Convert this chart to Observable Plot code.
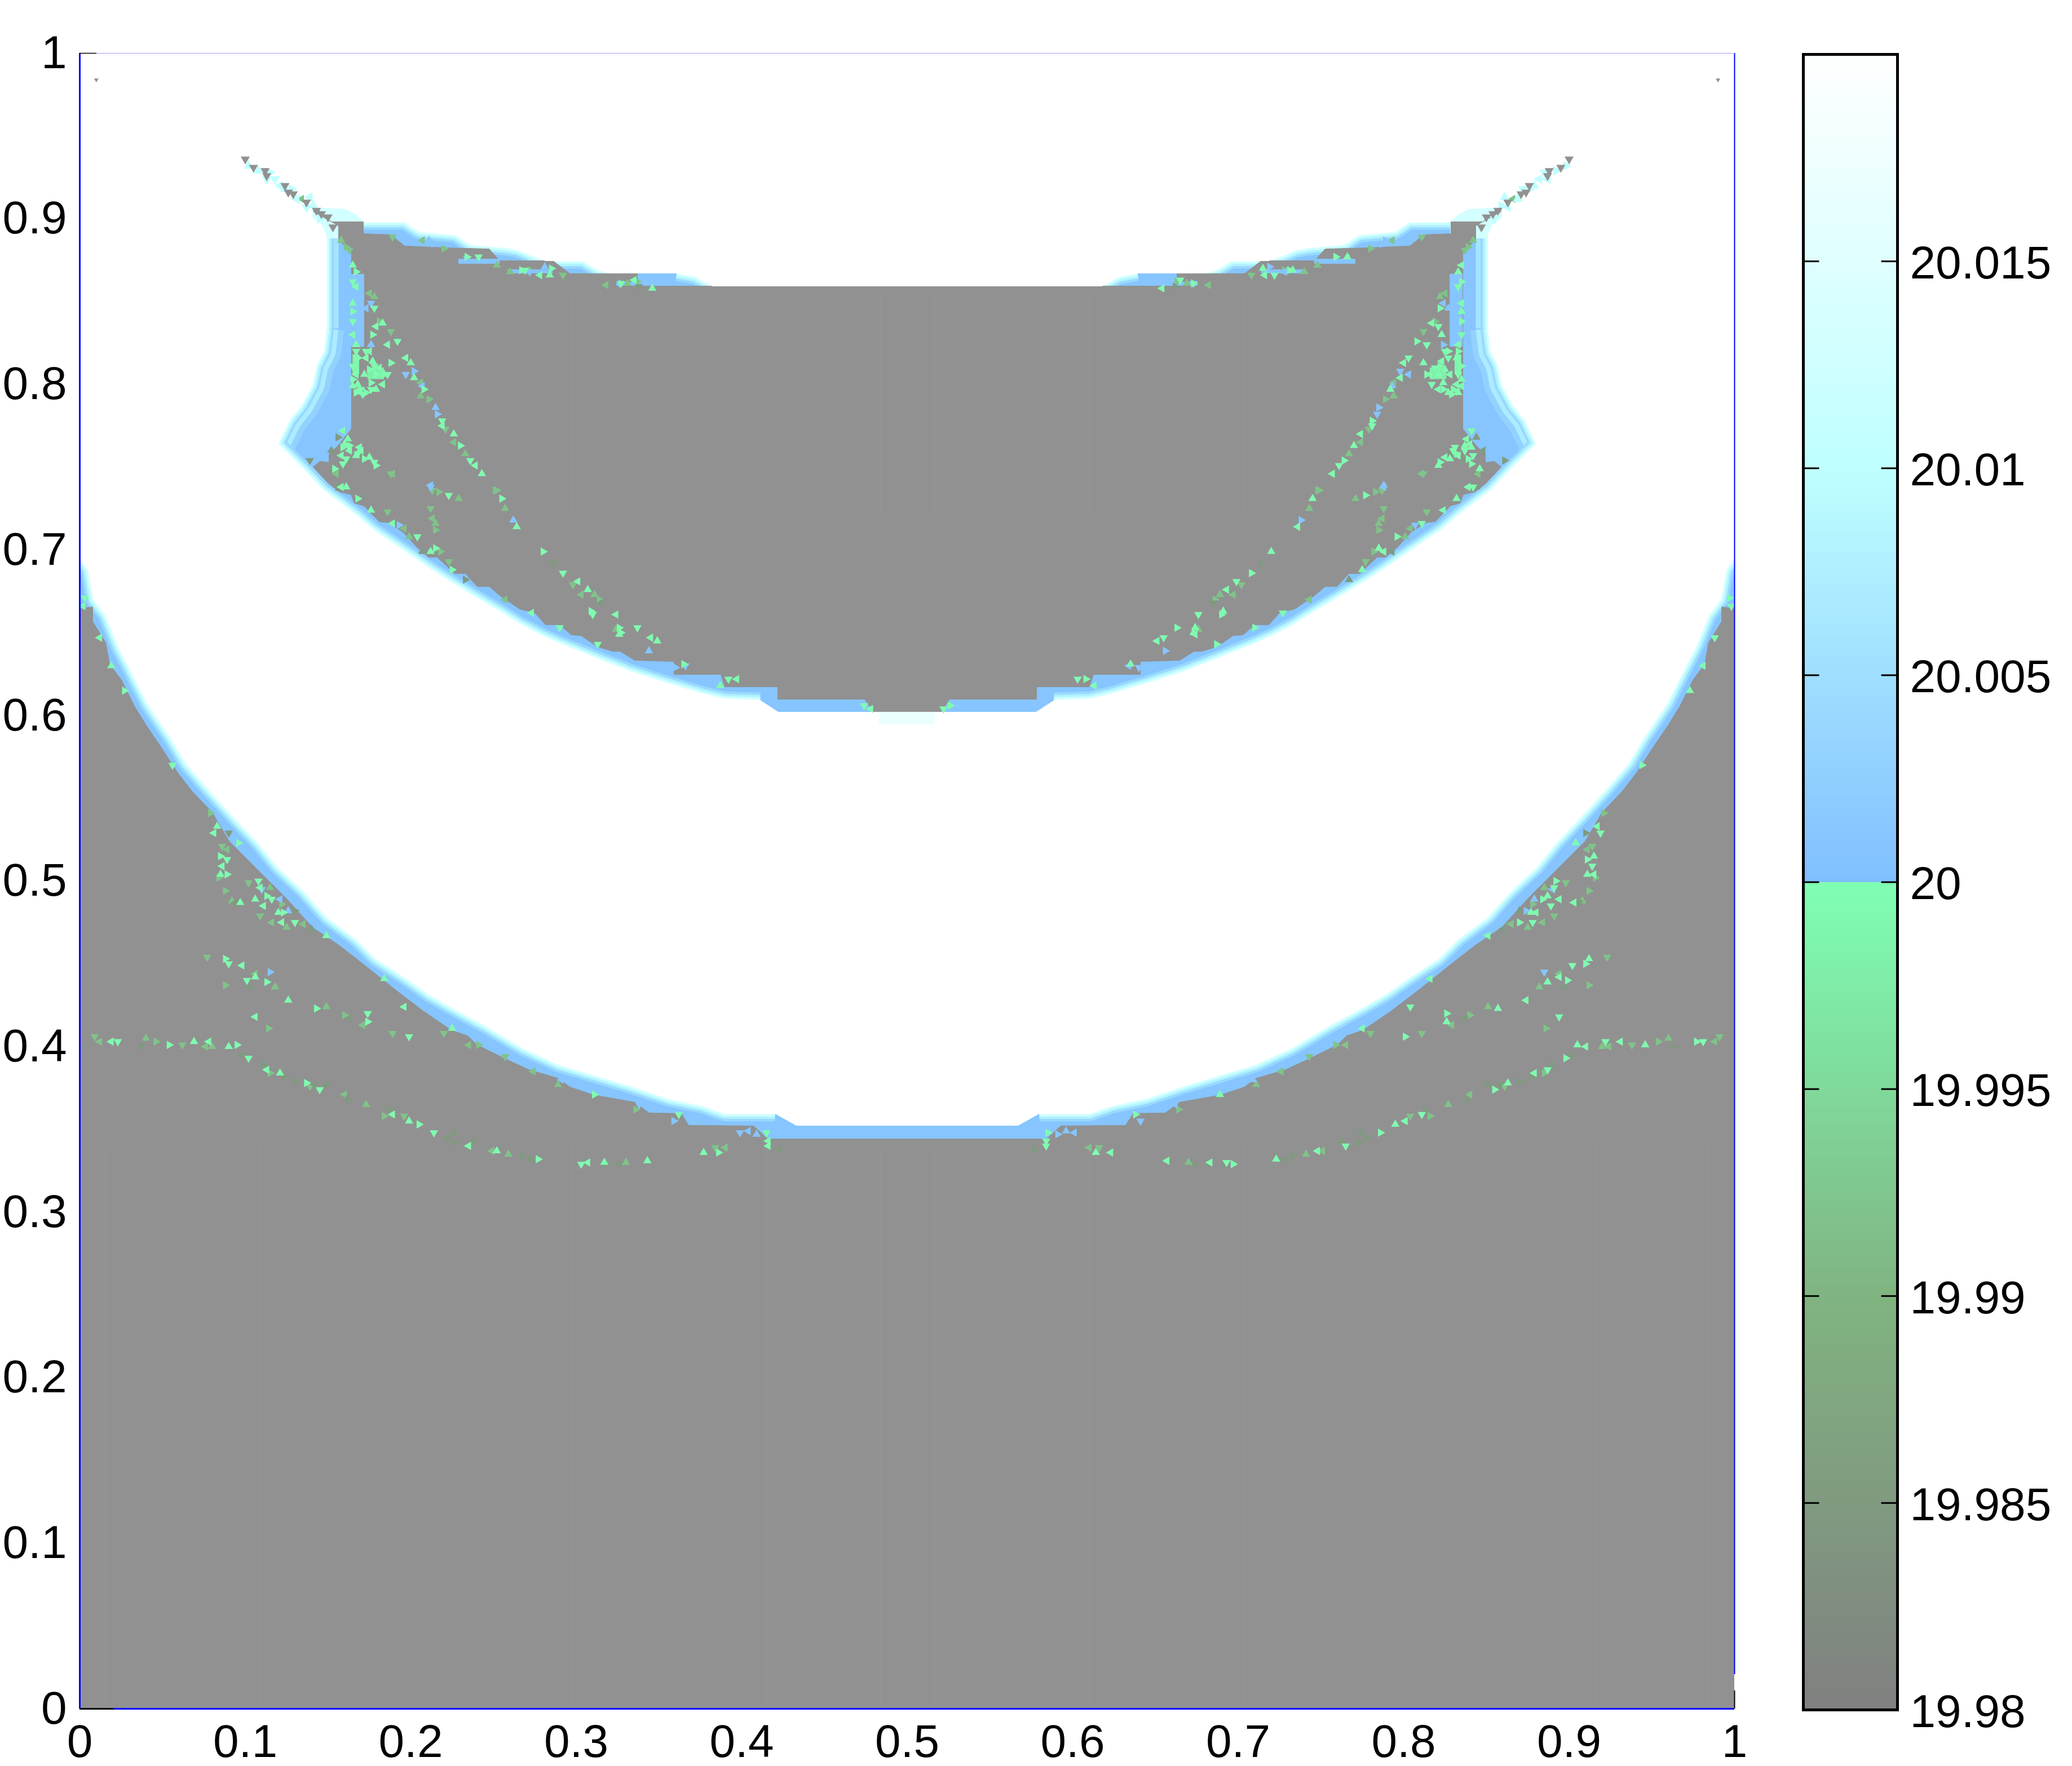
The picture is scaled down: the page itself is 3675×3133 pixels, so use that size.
<!DOCTYPE html>
<html><head><meta charset="utf-8">
<style>html,body{margin:0;padding:0;background:#fff;overflow:hidden}#c{position:relative;width:3675px;height:3133px}#c svg{position:absolute;left:0;top:0;background:transparent}</style>
<script src="https://cdn.jsdelivr.net/npm/d3@7"></script>
<script src="https://cdn.jsdelivr.net/npm/@observablehq/plot@0.6"></script>
</head><body><div id="c"></div>
<script>
// ---- axis ticks
const xyTicks = [0,0.1,0.2,0.3,0.4,0.5,0.6,0.7,0.8,0.9,1];
const barTicks = [19.98,19.985,19.99,19.995,20,20.005,20.01,20.015];
// colour scale of the field
const colorDomain = [19.98,19.99,20,20,20.01,20.02];
const colorRange = ["#808080","#80b480","#7fffb2","#80bfff","#bfffff","#ffffff"];
// ---- region outlines, left half (the field is mirror-symmetric about x = 0.5)
const grayLowerEdge = [[0,.6646],[.0078,.6656],[.0078,.6568],[.0157,.6439],[.0181,.6309],[.0252,.6214],[.0330,.6057],[.0399,.5945],[.0494,.5805],[.0589,.5659],[.0678,.5543],[.0801,.5414],[.0903,.5240],[.1060,.5083],[.1250,.4893],[.1407,.4719],[.1564,.4614],[.1670,.4532],[.1905,.4345],[.2075,.4215],[.2245,.4099],[.2344,.4065],[.2399,.4011],[.2572,.3926],[.2712,.3861],[.2896,.3807],[.2961,.3756],[.3104,.3708],[.3353,.3664],[.3441,.3599],[.3635,.3596],[.3680,.3524],[.4072,.3521],[.4157,.3442],[.5,.3442]];
const whiteLowerEdge = [[0,.6953],[.0051,.6881],[.0085,.6701],[.0157,.6605],[.0235,.6415],[.0313,.6265],[.0409,.6074],[.0549,.5867],[.0644,.5710],[.0780,.5553],[.0937,.5380],[.1077,.5233],[.1199,.5083],[.1356,.4937],[.1496,.4780],[.1670,.4651],[.1789,.4532],[.1973,.4413],[.2109,.4317],[.2245,.4239],[.2463,.4120],[.2681,.3990],[.2896,.3892],[.3114,.3827],[.3332,.3762],[.3550,.3688],[.3765,.3643],[.3898,.3596],[.4201,.3596],[.4330,.3524],[.5,.3524]];
const grayPocket = [[.5,.6020],[.4797,.6020],[.4743,.6098],[.4218,.6098],[.4218,.6173],[.3898,.6173],[.3874,.6248],[.3591,.6248],[.3591,.6326],[.3353,.6333],[.3267,.6387],[.3223,.6387],[.3128,.6415],[.3029,.6483],[.2971,.6486],[.2900,.6548],[.2814,.6548],[.2750,.6619],[.2658,.6643],[.2542,.6721],[.2474,.6779],[.2402,.6779],[.2330,.6857],[.2266,.6857],[.2160,.6956],[.2109,.6956],[.2037,.7017],[.1952,.7109],[.1867,.7164],[.1809,.7171],[.1717,.7266],[.1659,.7283],[.1639,.7334],[.1567,.7351],[.1503,.7402],[.1411,.7501],[.1451,.7535],[.1506,.7528],[.1506,.7576],[.1564,.7634],[.1642,.7732],[.1642,.8791],[.1564,.8876],[.1564,.8958],[.1411,.9044],[.1428,.9067],[.1520,.8982],[.1714,.8982],[.1714,.8910],[.1877,.8904],[.1963,.8836],[.2215,.8825],[.2474,.8818],[.2538,.8747],[.2859,.8747],[.2961,.8669],[.3370,.8669],[.3370,.8594],[.5,.8594]];
const whitePocketBottom = [[.4112,.6091],[.3898,.6098],[.3765,.6129],[.3550,.6193],[.3332,.6262],[.3114,.6347],[.2896,.6435],[.2787,.6483],[.2658,.6551],[.2528,.6633],[.2395,.6711],[.2266,.6789],[.2136,.6871],[.2007,.6960],[.1874,.7051],[.1772,.7120],[.1666,.7211],[.1564,.7290],[.1472,.7358],[.1353,.7484],[.1196,.7641]];
const whitePocketFan = [[.1196,.7641],[.1267,.7787],[.1336,.7872],[.1404,.7998],[.1428,.8114],[.1472,.8199],[.1489,.8338]];
const whitePocketWall = [[.1489,.8338],[.1489,.8904],[.1462,.8962]];
const whitePocketNotch = [[.1404,.9010],[.1404,.9067],[.1489,.9067]];
const whitePocketTop = [[.1608,.9060],[.1676,.9023],[.1717,.8982],[.1963,.8982],[.2051,.8924],[.2269,.8904],[.2358,.8846],[.2586,.8825],[.2654,.8812],[.2733,.8778],[.2814,.8747],[.3039,.8747],[.3131,.8693],[.3199,.8672]];
const whitePocketBlock = [[.3608,.8672],[.3721,.8652],[.3823,.8594]];
// pale fill behind the pocket's upper-left corner: [x1, x2, y1, y2, value]
const paleCorner = [[.1404,.1717,.8880,.9067,20.013]];
// ---- solid patches: [x1, x2, y1, y2, value]
const patches = [[.1642,.1720,.8226,.8665,20.001],[.1650,.1690,.8060,.8180,19.999],[.1740,.1840,.8030,.8100,19.998],[.2290,.2538,.8727,.8757,20.001],[.2586,.2859,.8669,.8693,20.001],[.3244,.3370,.8594,.8618,20.001],[.4831,.5,.5945,.6020,20.017]];
// ---- speckles: mesh triangles inside the gray regions, by colour band
const speckMint = [[.165,.872],[.167,.868],[.165,.862],[.167,.859],[.165,.849],[.165,.844],[.165,.838],[.165,.830],[.167,.824],[.168,.816],[.165,.811],[.167,.806],[.168,.800],[.167,.795],[.171,.794],[.175,.820],[.177,.814],[.175,.809],[.178,.811],[.181,.810],[.184,.806],[.176,.801],[.176,.797],[.179,.835],[.183,.837],[.177,.830],[.178,.846],[.197,.816],[.200,.813],[.188,.813],[.192,.826],[.186,.824],[.202,.804],[.208,.797],[.219,.778],[.219,.775],[.226,.770],[.230,.763],[.236,.754],[.239,.751],[.243,.746],[.255,.731],[.223,.733],[.159,.772],[.162,.767],[.159,.762],[.161,.755],[.169,.762],[.167,.757],[.172,.755],[.178,.753],[.158,.738],[.161,.738],[.154,.749],
[.173,.820],[.173,.816],[.172,.806],[.179,.806],[.186,.806],[.183,.800],[.179,.797],[.173,.795],[.170,.797],[.168,.796],[.165,.799],[.165,.803],[.167,.820],[.158,.757],[.160,.764],[.163,.763],[.168,.758],[.170,.760],[.175,.756],[.179,.751],[.159,.752],[.163,.760],
[.264,.714],[.280,.699],[.292,.686],[.301,.681],[.307,.676],[.309,.663],[.310,.661],[.324,.661],[.326,.649],[.215,.701],[.204,.708],[.189,.716],[.176,.724],[.168,.731],[.290,.653],[.273,.662],[.212,.699],[.225,.688],[.313,.643],
[.081,.529],[.083,.533],[.085,.515],[.089,.513],[.086,.509],[.085,.504],[.089,.504],[.108,.500],[.109,.496],[.106,.489],[.113,.491],[.116,.489],[.111,.485],[.120,.481],[.123,.481],[.130,.475],[.122,.475],[.097,.487],[.096,.523],[.056,.570],[.012,.647],[.019,.630],[.027,.615],[.003,.671],[.002,.666],[.149,.467],
[.088,.453],[.090,.450],[.098,.449],[.106,.442],[.113,.439],[.101,.440],[.078,.403],[.069,.403],[.054,.401],[.023,.403],[.019,.403],[.090,.400],[.095,.401],[.102,.393],[.113,.386],[.121,.384],[.137,.378],[.145,.374],[.189,.359],[.199,.355],[.205,.353],[.214,.348],[.235,.340],[.252,.337],[.277,.332],[.303,.329],[.307,.330],[.317,.330],[.174,.415],[.199,.406],[.196,.424],[.184,.441],[.143,.423],[.174,.420],[.106,.418],[.126,.428],
[.326,.653],[.337,.653],[.345,.647],[.349,.645],[.327,.650],[.392,.622],[.397,.622],[.387,.618],[.365,.631],[.474,.606],[.478,.604],[.225,.411],[.311,.371],[.415,.348],[.416,.343],[.377,.336],[.386,.336],[.362,.359],[.416,.340],[.343,.331],
[.267,.869],[.269,.869],[.278,.866],[.284,.866],[.285,.870],[.327,.861],[.335,.863],[.346,.858],[.234,.877],[.241,.877]];
const speckGreen = [[.158,.887],[.161,.883],[.163,.881],[.175,.855],[.178,.853],[.181,.838],[.188,.832],[.206,.801],[.206,.793],[.211,.791],[.221,.773],[.226,.765],[.233,.758],[.252,.736],[.188,.746],[.155,.746],
[.257,.725],[.251,.736],[.212,.725],[.213,.719],[.215,.716],[.215,.712],[.186,.723],[.303,.673],[.311,.673],[.314,.670],[.298,.679],[.196,.713],[.199,.708],[.218,.699],[.223,.693],[.257,.670],[.229,.731],[.217,.735],[.213,.736],[.189,.746],[.324,.652],
[.079,.541],[.086,.521],[.089,.519],[.115,.496],[.122,.486],[.109,.479],[.116,.475],[.092,.488],[.088,.494],[.102,.499],[.135,.474],[.125,.472],[.084,.502],
[.077,.454],[.106,.444],[.118,.436],[.088,.437],[.009,.406],[.012,.403],[.040,.405],[.046,.403],[.062,.401],[.076,.400],[.080,.400],[.115,.384],[.139,.376],[.160,.371],[.173,.365],[.184,.358],[.196,.358],[.249,.337],[.259,.335],[.114,.411],[.189,.408],[.171,.413],[.149,.424],[.160,.419],[.220,.408],[.235,.401],[.330,.330],
[.241,.401],[.257,.394],[.274,.385],[.289,.377],[.336,.362],[.384,.339],[.390,.339],
[.260,.868],[.272,.869],[.292,.866],[.318,.860],[.331,.861],[.337,.862],[.189,.889],[.207,.887],[.252,.872],[.220,.882],[.113,.926],[.134,.912]];
const speckDark = [[.152,.760],[.156,.768],[.139,.754],[.163,.754],[.171,.759],[.156,.738],[.286,.692],[.315,.668],[.207,.699],[.233,.682],[.090,.529],[.094,.487],[.140,.471],[.130,.482],
[.037,.400],[.098,.395],[.111,.389],[.123,.382],[.130,.379],[.142,.377],[.149,.377],[.162,.368],[.187,.362],[.222,.345],[.226,.348],[.238,.343],[.227,.342],[.267,.334],[.272,.332],[.318,.329],[.326,.329],[.163,.417],[.103,.436],[.423,.338],[.338,.859]];
const speckBlue = [[.176,.849],[.173,.846],[.176,.824],[.202,.808],[.197,.806],[.207,.799],[.215,.786],[.216,.782],[.212,.738],[.212,.739],[.262,.718],[.193,.715],[.110,.495],[.121,.489],[.126,.482],[.115,.445],[.399,.348],[.404,.349],[.409,.347],[.359,.355],[.338,.365],[.291,.380],[.344,.639],[.360,.629],[.366,.630],[.357,.630],[.281,.871],[.327,.861],[.272,.868],[.199,.886],[.211,.887],[.214,.885],[.234,.876]];
const tailGray = [[.100,.936],[.105,.931],[.112,.929],[.113,.926],[.124,.920],[.126,.916],[.129,.915],[.137,.910],[.143,.905],[.146,.903],[.150,.901],[.153,.895]];
const tailCyan = [[.102,.932],[.115,.928],[.113,.924],[.121,.920],[.124,.918],[.128,.918],[.137,.907],[.139,.913],[.108,.929],[.145,.900],[.118,.924],[.131,.912],[.141,.908]];
const cornerDot = [[.010,.984]];
// faint mesh lines seen in the gray field
const faintLower = [.016,.084,.109,.203,.297,.390,.415,.484];
const faintPocket = [.203,.297,.390,.484];

// ---- build tables for the library
const both = (pts, id) => [...pts.map(([x,y]) => ({x,y,z:id+"L"})), ...pts.map(([x,y]) => ({x:1-x,y,z:id+"R"}))];
const rectRows = list => list.flatMap(([a,b,c,d,v]) => [{x1:a,x2:b,y1:c,y2:d,v},{x1:1-b,x2:1-a,y1:c,y2:d,v}]);
const grayLowerRing = [[0,0],...grayLowerEdge,[.5,0]];
const whiteRing = [[0,1],...whiteLowerEdge,...[[.5,.6020],[.4221,.6020]],...whitePocketBottom,...whitePocketFan,...whitePocketWall,...whitePocketNotch,...whitePocketTop,...whitePocketBlock,[.5,.8594],[.5,1]];
const edges = [whiteLowerEdge.slice(0,-2), whitePocketBottom, whitePocketFan, whitePocketWall, whitePocketTop, whitePocketBlock];
const edgeRows = edges.flatMap((e,i) => both(e,"e"+i));
const fanRows = both(whitePocketFan,"f");
const wallRows = both(whitePocketWall,"w");
const speckRows = (list,v) => both(list,"s").map(d => ({...d,v}));
const specks = [...speckRows(speckGreen,19.992),...speckRows(speckDark,19.985),...speckRows(speckBlue,20.001),...speckRows(speckMint,19.9995)];
const turn = (d,i) => [0,90,180,270][i%4];
const edgeLine = (rows,w,v) => Plot.line(rows,{x:"x",y:"y",z:"z",stroke:()=>v,strokeWidth:w,strokeLinecap:"butt",clip:true});
const ringMark = (ring,id,col) => Plot.line(both(ring,id),{x:"x",y:"y",z:"z",fill:col,stroke:col,strokeWidth:1,clip:true});
const rectMark = list => Plot.rect(rectRows(list),{x1:"x1",x2:"x2",y1:"y1",y2:"y2",fill:"v"});
const font = "'Liberation Sans', Arial, sans-serif";
const color = {type:"linear",domain:colorDomain,range:colorRange,clamp:true};

const field = Plot.plot({
  width:3675,height:3133,marginLeft:141,marginRight:599,marginTop:94,marginBottom:102,
  style:{fontFamily:font,fontSize:"82px",color:"#000",background:"transparent"},
  x:{domain:[0,1],label:null},y:{domain:[0,1],label:null},color,
  marks:[
    Plot.rect([{v:20.001}],{x1:0,x2:1,y1:0,y2:1,fill:"v"}),
    edgeLine(fanRows,64,20.003),edgeLine(fanRows,44,20.007),edgeLine(fanRows,24,20.012),edgeLine(fanRows,8,20.017),
    edgeLine(wallRows,44,20.006),
    edgeLine(edgeRows,28,20.004),edgeLine(edgeRows,19,20.008),edgeLine(edgeRows,11,20.012),edgeLine(edgeRows,4,20.016),
    rectMark(paleCorner),
    ringMark(grayLowerRing,"g","#919191"),
    ringMark(grayPocket,"p","#919191"),
    Plot.ruleX(faintLower.flatMap(x=>[x,1-x]),{y1:0,y2:.34,stroke:"#979797",strokeWidth:1}),
    Plot.ruleX(faintPocket.flatMap(x=>[x,1-x]),{y1:.72,y2:.855,stroke:"#979797",strokeWidth:1}),
    ringMark(whiteRing,"w","#ffffff"),
    rectMark(patches),
    Plot.dot(specks,{x:"x",y:"y",fill:"v",symbol:"triangle",r:5.5,rotate:turn}),
    Plot.dot(both(tailCyan,"t"),{x:"x",y:"y",fill:()=>20.01,symbol:"triangle",r:6.5,rotate:turn}),
    Plot.dot(both(tailGray,"t"),{x:"x",y:"y",fill:"#919191",symbol:"triangle",r:6,rotate:180}),
    Plot.dot(both(cornerDot,"d"),{x:"x",y:"y",fill:"#919191",symbol:"triangle",r:3,rotate:180}),
    Plot.ruleX([0],{y1:0,y2:1,stroke:"#0000ff",strokeWidth:3}),
    Plot.ruleX([1],{y1:.0208,y2:1,stroke:"#0000ff",strokeWidth:2}),
    Plot.ruleX([1],{y1:0,y2:.0109,stroke:"#000",strokeWidth:2}),
    Plot.ruleY([0],{x1:0,x2:1,stroke:"#0000ff",strokeWidth:3}),
    Plot.ruleY([0],{x1:0,x2:.0204,stroke:"#000",strokeWidth:3}),
    Plot.ruleY([1],{x1:0,x2:1,stroke:"#a0a0ff",strokeWidth:1}),
    Plot.ruleY([1],{x1:0,x2:.0102,stroke:"#000",strokeWidth:1.5}),
    Plot.axisX({ticks:xyTicks,tickSize:0,tickPadding:27,tickFormat:d=>String(d),fontSize:82,label:null}),
    Plot.axisY({ticks:xyTicks,tickSize:0,tickPadding:23,tickFormat:d=>String(d),fontSize:82,label:null})
  ]
});

const step = 0.0001;
const barLevels = d3.range(0,400).map(i => 19.98 + i*step);
const bar = Plot.plot({
  width:3675,height:3133,marginLeft:3198,marginRight:310,marginTop:96,marginBottom:100,
  style:{fontFamily:font,fontSize:"82px",color:"#000",background:"transparent"},
  x:{domain:[0,1],axis:null},y:{domain:[19.98,20.02],label:null},color,
  marks:[
    Plot.rect(barLevels,{x1:0,x2:1,y1:d=>d,y2:d=>d+step,fill:d=>d+step/2,shapeRendering:"crispEdges"}),
    Plot.ruleY(barTicks,{x1:0,x2:.17,stroke:"#000",strokeWidth:3}),
    Plot.ruleY(barTicks,{x1:.83,x2:1,stroke:"#000",strokeWidth:3}),
    Plot.frame({stroke:"#000",strokeWidth:5}),
    Plot.axisY({anchor:"right",ticks:barTicks,tickSize:0,tickPadding:22,tickFormat:d=>String(+d.toFixed(3)),fontSize:82,label:null,dy:4})
  ]
});
document.getElementById("c").append(field,bar);
</script></body></html>
